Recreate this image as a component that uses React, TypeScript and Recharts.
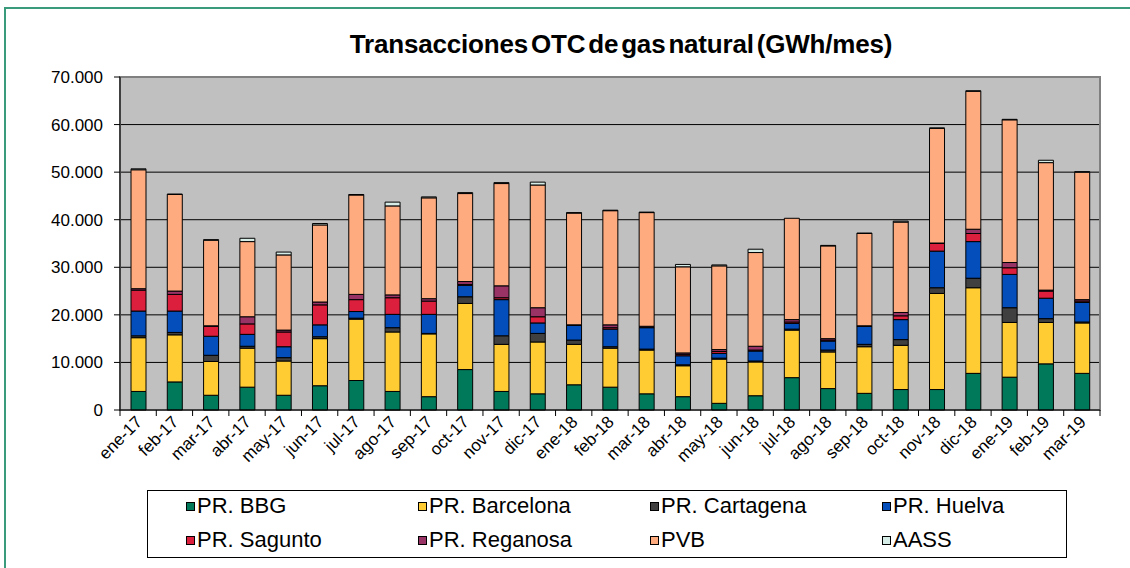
import { Bar, BarChart, CartesianGrid, ReferenceArea, XAxis, YAxis } from "recharts";

// Transacciones OTC de gas natural (GWh/mes), apiladas por punto de entrega
const MONTHS = [
  "ene-17", "feb-17", "mar-17", "abr-17", "may-17", "jun-17", "jul-17", "ago-17", "sep-17",
  "oct-17", "nov-17", "dic-17", "ene-18", "feb-18", "mar-18", "abr-18", "may-18", "jun-18",
  "jul-18", "ago-18", "sep-18", "oct-18", "nov-18", "dic-18", "ene-19", "feb-19", "mar-19",
];

const BBG = [3900, 5900, 3100, 4800, 3100, 5100, 6200, 3900, 2800, 8500, 3900, 3400, 5300, 4800, 3400, 2800, 1400, 3000, 6800, 4500, 3500, 4300, 4300, 7700, 6900, 9700, 7700];
const BARCELONA = [11300, 9900, 7100, 8200, 7200, 9900, 12900, 12500, 13200, 13900, 9900, 10900, 8500, 8200, 9200, 6500, 9300, 7100, 10000, 7700, 9800, 9300, 20200, 18000, 11500, 8700, 10600];
const CARTAGENA = [400, 500, 1300, 400, 700, 400, 200, 900, 100, 1400, 1800, 1800, 900, 300, 200, 200, 200, 200, 200, 400, 500, 1200, 1200, 2000, 3100, 800, 200];
const HUELVA = [5200, 4500, 4000, 2500, 2300, 2500, 1400, 2800, 4000, 2400, 7600, 2200, 3100, 3700, 4500, 1900, 1000, 2100, 1200, 1900, 3800, 4200, 7700, 7700, 7000, 4300, 4100];
const SAGUNTO = [4400, 3500, 2100, 2200, 3100, 4200, 2500, 3500, 2800, 200, 400, 1300, 50, 300, 100, 300, 400, 200, 300, 200, 50, 800, 1600, 1700, 1400, 1500, 300];
const REGANOSA = [300, 700, 100, 1500, 400, 600, 1100, 600, 500, 600, 2500, 1900, 50, 600, 200, 300, 400, 800, 500, 300, 50, 700, 100, 900, 1100, 200, 300];
const PVB = [25000, 20300, 18000, 15800, 15800, 16200, 20900, 18700, 21200, 18500, 21500, 25800, 23500, 24000, 23900, 18100, 17600, 19700, 21300, 19500, 19400, 19000, 24100, 29000, 30000, 26800, 26800];
const AASS = [200, 100, 100, 700, 600, 300, 100, 800, 200, 200, 200, 600, 100, 100, 100, 500, 200, 700, 0, 100, 100, 200, 100, 100, 100, 500, 100];

const Y_TICKS = [0, 10000, 20000, 30000, 40000, 50000, 60000, 70000];

const SERIES = [
  { key: "bbg", name: "PR. BBG", color: "#00795A", values: BBG },
  { key: "barcelona", name: "PR. Barcelona", color: "#FFCC33", values: BARCELONA },
  { key: "cartagena", name: "PR. Cartagena", color: "#404040", values: CARTAGENA },
  { key: "huelva", name: "PR. Huelva", color: "#034EBB", values: HUELVA },
  { key: "sagunto", name: "PR. Sagunto", color: "#DB1F3D", values: SAGUNTO },
  { key: "reganosa", name: "PR. Reganosa", color: "#993366", values: REGANOSA },
  { key: "pvb", name: "PVB", color: "#FFAB80", values: PVB },
  { key: "aass", name: "AASS", color: "#D6ECE6", values: AASS },
];

// orden de la leyenda (filas de 4)
const LEGEND_ORDER = ["bbg", "barcelona", "cartagena", "huelva", "sagunto", "reganosa", "pvb", "aass"];

const data = MONTHS.map((m, i) => {
  const row: Record<string, string | number> = { month: m };
  SERIES.forEach((s) => (row[s.key] = s.values[i]));
  return row;
});

const FONT = "'Liberation Sans', Arial, sans-serif";
const PLOT_LEFT = 120;
const PLOT_RIGHT = 1100;
const BAND = (PLOT_RIGHT - PLOT_LEFT) / MONTHS.length;

function fmtMiles(v: number): string {
  return String(v).replace(/\B(?=(\d{3})+(?!\d))/g, ".");
}

function MonthTick(props: any) {
  const { x, y, payload, index } = props;
  const half = BAND / 2;
  const tx = x + 5;
  const ty = y + 13;
  return (
    <g>
      <line x1={x - half} x2={x - half} y1={y} y2={y + 6} stroke="#000" />
      {index === MONTHS.length - 1 && (
        <line x1={x + half} x2={x + half} y1={y} y2={y + 6} stroke="#000" />
      )}
      <text
        x={tx}
        y={ty}
        transform={`rotate(-45 ${tx} ${ty})`}
        textAnchor="end"
        fontSize={17}
        fontFamily={FONT}
        fill="#000"
      >
        {payload.value}
      </text>
    </g>
  );
}

export default function App() {
  const byKey = Object.fromEntries(SERIES.map((s) => [s.key, s]));
  return (
    <div
      style={{
        position: "absolute",
        left: 0,
        top: 0,
        width: 1130,
        height: 568,
        overflow: "hidden",
        background: "#fff",
        fontFamily: FONT,
      }}
    >
      {/* marco verde exterior */}
      <div
        style={{
          position: "absolute",
          left: 4,
          top: 7,
          width: 1140,
          height: 600,
          borderLeft: "2px solid #3A9A7C",
          borderTop: "2px solid #3A9A7C",
        }}
      />
      <div
        style={{
          position: "absolute",
          left: 0,
          width: 1242,
          top: 29,
          textAlign: "center",
          fontSize: 26,
          fontWeight: "bold",
          letterSpacing: -0.2,
          wordSpacing: -4,
          whiteSpace: "nowrap",
          color: "#000",
        }}
      >
        Transacciones OTC de gas natural (GWh/mes)
      </div>
      <BarChart
        width={1130}
        height={568}
        data={data}
        margin={{ top: 77, right: 1130 - PLOT_RIGHT, left: PLOT_LEFT - 70, bottom: 98 }}
        barSize={15}
        style={{ position: "absolute", left: 0, top: 0 }}
      >
        <CartesianGrid fill="#C0C0C0" stroke="#000" vertical={false} />
        <ReferenceArea y1={0} y2={70000} fill="none" stroke="#808080" strokeWidth={2} ifOverflow="visible" />
        <XAxis
          dataKey="month"
          interval={0}
          height={60}
          tickSize={0}
          tickMargin={0}
          tickLine={false}
          axisLine={{ stroke: "#000" }}
          tick={<MonthTick />}
        />
        <YAxis
          width={70}
          domain={[0, 70000]}
          ticks={Y_TICKS}
          interval={0}
          tickFormatter={fmtMiles}
          tick={{ fill: "#000", fontSize: 17, fontFamily: FONT }}
          tickSize={6}
          tickMargin={11}
          tickLine={{ stroke: "#000" }}
          axisLine={{ stroke: "#000" }}
        />
        {SERIES.map((s) => (
          <Bar
            key={s.key}
            dataKey={s.key}
            name={s.name}
            stackId="otc"
            fill={s.color}
            stroke="#000"
            strokeWidth={1}
            isAnimationActive={false}
          />
        ))}
      </BarChart>
      {/* leyenda */}
      <div
        style={{
          position: "absolute",
          left: 147,
          top: 490,
          width: 920,
          height: 68,
          border: "1px solid #000",
          background: "#fff",
          boxSizing: "border-box",
        }}
      >
        {LEGEND_ORDER.map((k, i) => {
          const s = byKey[k];
          const col = i % 4;
          const row = Math.floor(i / 4);
          return (
            <div
              key={k}
              style={{
                position: "absolute",
                left: 38 + col * 232,
                top: 2 + row * 34,
                height: 26,
                display: "flex",
                alignItems: "center",
                fontSize: 22,
                color: "#000",
                whiteSpace: "nowrap",
              }}
            >
              <span
                style={{
                  width: 7,
                  height: 7,
                  background: s.color,
                  border: "1px solid #000",
                  marginRight: 2,
                  display: "inline-block",
                }}
              />
              {s.name}
            </div>
          );
        })}
      </div>
    </div>
  );
}
